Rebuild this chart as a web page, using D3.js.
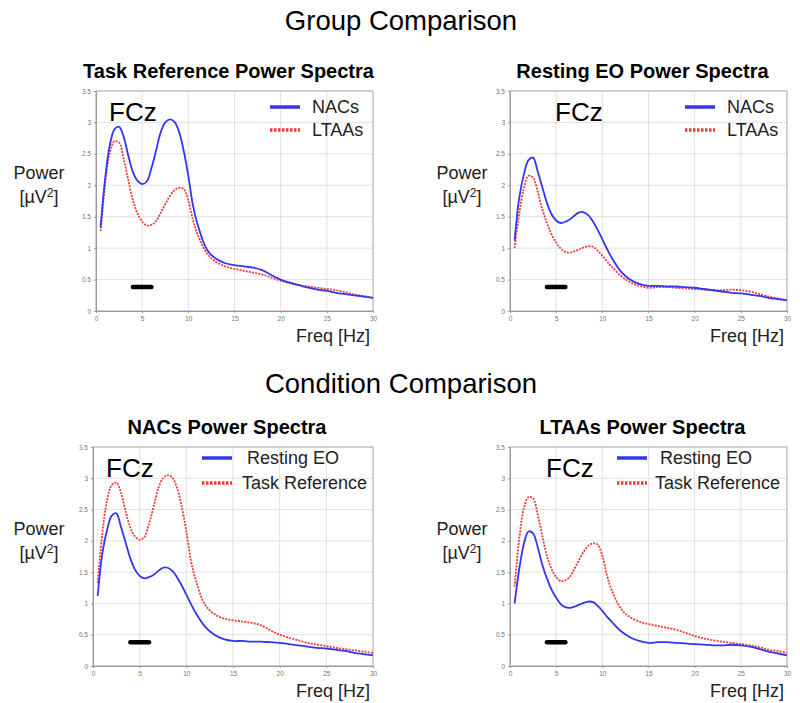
<!DOCTYPE html>
<html>
<head>
<meta charset="utf-8">
<script src="https://cdn.jsdelivr.net/npm/d3@7"></script>
<style>
  body { margin: 0; background: #fff; }
  text { font-family: "Liberation Sans", Arial, sans-serif; }
</style>
</head>
<body>
<svg id="plotCanvas" width="800" height="703"></svg>
<script>
// frequency samples (Hz)
var freq = [0.5,1,1.5,2,2.5,3,3.5,4,4.5,5,5.5,6,6.5,7,7.5,8,8.5,9,9.5,10,10.5,11,
            12,13,14,15,16,17,18,19,20,21,22,23,24,25,26,27,28,29,30];

// power [uV^2]
var nacsTask  = [1.33,2.12,2.64,2.89,2.93,2.77,2.47,2.21,2.07,2.02,2.06,2.27,2.55,2.84,3.00,3.05,3.01,2.85,2.55,2.15,1.68,1.38,
                 0.98,0.83,0.76,0.73,0.71,0.69,0.65,0.57,0.50,0.45,0.41,0.37,0.34,0.32,0.29,0.27,0.25,0.23,0.21];
var ltaasTask = [1.27,2.03,2.52,2.70,2.68,2.42,2.08,1.76,1.55,1.42,1.36,1.37,1.43,1.56,1.70,1.83,1.92,1.96,1.94,1.76,1.45,1.22,
                 0.92,0.78,0.71,0.67,0.64,0.61,0.58,0.53,0.48,0.44,0.41,0.39,0.37,0.35,0.33,0.30,0.26,0.24,0.21];
var nacsRest  = [1.12,1.80,2.17,2.40,2.44,2.22,1.97,1.72,1.54,1.44,1.40,1.42,1.46,1.52,1.57,1.57,1.52,1.42,1.29,1.14,0.99,0.85,
                 0.63,0.50,0.43,0.40,0.40,0.39,0.39,0.38,0.37,0.35,0.33,0.31,0.29,0.28,0.26,0.24,0.21,0.19,0.17];
var ltaasRest = [1.00,1.55,1.95,2.15,2.12,1.90,1.62,1.40,1.22,1.09,0.99,0.94,0.93,0.95,0.98,1.01,1.03,1.02,0.96,0.88,0.79,0.71,
                 0.56,0.46,0.40,0.37,0.38,0.38,0.37,0.36,0.35,0.34,0.33,0.33,0.34,0.33,0.31,0.27,0.23,0.20,0.17];

// significance bar (Hz range, power level)
var sigRange = [4, 6];
var sigLevel = 0.38;

var xTicks = [0,5,10,15,20,25,30];
var yTicks = [0,0.5,1,1.5,2,2.5,3,3.5];

var sectionTitles = ["Group Comparison", "Condition Comparison"];

var blue = "#3434f2";
var red = "#f03a3a";

// panel layout
var panels = [
  {title: "Task Reference Power Spectra", left: 96, top: 91, right: 373, bottom: 311, labelX: 39,
   solid: nacsTask, dotted: ltaasTask, names: ["NACs", "LTAAs"], fczX: 109, legX: 270, legTextX: 312, legY: [16, 39]},
  {title: "Resting EO Power Spectra", left: 510, top: 91, right: 787, bottom: 311, labelX: 462,
   solid: nacsRest, dotted: ltaasRest, names: ["NACs", "LTAAs"], fczX: 555, legX: 685, legTextX: 727, legY: [16, 39]},
  {title: "NACs Power Spectra", left: 93, top: 447, right: 373, bottom: 666, labelX: 39,
   solid: nacsRest, dotted: nacsTask, names: [" Resting EO", "Task Reference"], fczX: 106, legX: 202, legTextX: 242, legY: [11, 36]},
  {title: "LTAAs Power Spectra", left: 510, top: 447, right: 787, bottom: 666, labelX: 462,
   solid: ltaasRest, dotted: ltaasTask, names: [" Resting EO", "Task Reference"], fczX: 546, legX: 617, legTextX: 655, legY: [11, 36]}
];

var canvas = d3.select("#plotCanvas");

//section headings
canvas.append("text")
  .attr("x", 401).attr("y", 30)
  .attr("text-anchor", "middle")
  .attr("font-size", "27.5px")
  .text(sectionTitles[0]);
canvas.append("text")
  .attr("x", 401).attr("y", 393)
  .attr("text-anchor", "middle")
  .attr("font-size", "27.5px")
  .text(sectionTitles[1]);

panels.forEach(function(p)
{
  var x = d3.scaleLinear().domain([0, 30]).range([p.left, p.right]);
  var y = d3.scaleLinear().domain([0, 3.5]).range([p.bottom, p.top]);
  var g = canvas.append("g");

  //grid
  g.selectAll(".vgrid").data(xTicks).enter().append("line")
    .attr("x1", function(d){ return x(d); }).attr("x2", function(d){ return x(d); })
    .attr("y1", p.top).attr("y2", p.bottom)
    .attr("stroke", "#e2e2e2").attr("stroke-width", 1);
  g.selectAll(".hgrid").data(yTicks).enter().append("line")
    .attr("x1", p.left).attr("x2", p.right)
    .attr("y1", function(d){ return y(d); }).attr("y2", function(d){ return y(d); })
    .attr("stroke", "#e2e2e2").attr("stroke-width", 1);

  //frame
  g.append("rect")
    .attr("x", p.left).attr("y", p.top)
    .attr("width", p.right - p.left).attr("height", p.bottom - p.top)
    .attr("fill", "none").attr("stroke", "#b0b0b0").attr("stroke-width", 1);

  //axes
  var xAxis = d3.axisBottom(x).tickValues(xTicks).tickSize(2).tickFormat(d3.format("d"));
  var yAxis = d3.axisLeft(y).tickValues(yTicks).tickSize(2).tickFormat(function(d){ return String(d); });
  var gx = g.append("g").attr("transform", "translate(0," + p.bottom + ")").call(xAxis);
  var gy = g.append("g").attr("transform", "translate(" + p.left + ",0)").call(yAxis);
  [gx, gy].forEach(function(a)
  {
    a.select(".domain").attr("stroke", "#9a9a9a");
    a.selectAll(".tick line").attr("stroke", "#9a9a9a");
    a.selectAll(".tick text").attr("fill", "#777").attr("font-size", "6.5px")
      .attr("font-family", "Liberation Sans, Arial, sans-serif");
  });

  //titles and labels
  g.append("text")
    .attr("x", (p.left + p.right) / 2 - 6).attr("y", p.top - 13)
    .attr("text-anchor", "middle")
    .attr("font-size", "20px").attr("font-weight", "bold")
    .text(p.title);
  g.append("text")
    .attr("x", p.labelX).attr("y", (p.top + p.bottom) / 2 - 22)
    .attr("text-anchor", "middle").attr("font-size", "18px").attr("fill", "#222")
    .text("Power");
  var unit = g.append("text")
    .attr("x", p.labelX).attr("y", (p.top + p.bottom) / 2 + 2)
    .attr("text-anchor", "middle").attr("font-size", "18px").attr("fill", "#222");
  unit.append("tspan").text("[\u00b5V");
  unit.append("tspan").attr("font-size", "12px").attr("dy", "-6").text("2");
  unit.append("tspan").attr("dy", "6").text("]");
  g.append("text")
    .attr("x", p.right - 3).attr("y", p.bottom + 31)
    .attr("text-anchor", "end").attr("font-size", "18px").attr("fill", "#222")
    .text("Freq [Hz]");
  g.append("text")
    .attr("x", p.fczX).attr("y", p.top + 30)
    .attr("font-size", "26px")
    .text("FCz");

  //legend
  g.append("line")
    .attr("x1", p.legX).attr("x2", p.legX + 30)
    .attr("y1", p.top + p.legY[0]).attr("y2", p.top + p.legY[0])
    .attr("stroke", blue).attr("stroke-width", 3.5);
  g.append("line")
    .attr("x1", p.legX).attr("x2", p.legX + 30)
    .attr("y1", p.top + p.legY[1]).attr("y2", p.top + p.legY[1])
    .attr("stroke", red).attr("stroke-width", 3.5).attr("stroke-dasharray", "2.5,1.5");
  g.append("text")
    .attr("x", p.legTextX).attr("y", p.top + p.legY[0] + 6)
    .attr("font-size", "18px").attr("fill", "#222").attr("xml:space", "preserve")
    .text(p.names[0]);
  g.append("text")
    .attr("x", p.legTextX).attr("y", p.top + p.legY[1] + 6)
    .attr("font-size", "18px").attr("fill", "#222")
    .text(p.names[1]);

  //significance bar
  g.append("line")
    .attr("x1", x(sigRange[0])).attr("x2", x(sigRange[1]))
    .attr("y1", y(sigLevel)).attr("y2", y(sigLevel))
    .attr("stroke", "#000").attr("stroke-width", 4.5).attr("stroke-linecap", "round");

  //spectra
  var line = d3.line()
    .x(function(d, i){ return x(freq[i]); })
    .y(function(d){ return y(d); })
    .curve(d3.curveCatmullRom);
  g.append("path").datum(p.dotted)
    .attr("d", line).attr("fill", "none")
    .attr("stroke", red).attr("stroke-width", 1.8).attr("stroke-dasharray", "2,1.2");
  g.append("path").datum(p.solid)
    .attr("d", line).attr("fill", "none")
    .attr("stroke", blue).attr("stroke-width", 1.8);
});
</script>
</body>
</html>
